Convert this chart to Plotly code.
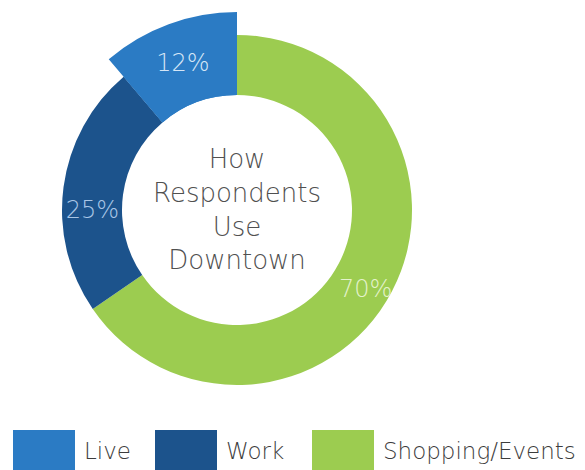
import math

import plotly.graph_objects as go

# Survey answers
labels = ["Live", "Work", "Shopping/Events"]
values = [12, 25, 70]
colors = ["#2b7bc4", "#1c538c", "#9ccc50"]
text_colors = ["#d6e6f6", "#a9c6e6", "#e4f2cc"]
center_title = "How<br>Respondents<br>Use<br>Downtown"

# page has an 8px body margin, so work in screen pixels and shift
OFF = 8
W, H = 585 - OFF, 470 - OFF
cx, cy = 237 - OFF, 210 - OFF   # donut centre (from top-left of the figure)
r_out, r_in = 175, 115          # normal ring
r_big = 198                     # the pulled-out "Live" slice


def dom(r):
    return dict(
        x=[(cx - r) / W, (cx + r) / W],
        y=[(H - cy - r) / H, (H - cy + r) / H],
    )


# pie goes clockwise from 12 o'clock: Shopping, Work, Live
p_labels = labels[::-1]
p_values = values[::-1]
p_colors = colors[::-1]
p_text_colors = text_colors[::-1]

label_font = dict(family="DejaVu Sans", size=24, weight=300)

fig = go.Figure()

# Main ring (the big green slice gets its label as an annotation below)
fig.add_trace(
    go.Pie(
        labels=p_labels,
        values=p_values,
        sort=False,
        direction="clockwise",
        rotation=0,
        hole=r_in / r_out,
        domain=dom(r_out),
        marker=dict(colors=p_colors, line=dict(width=0)),
        text=["", f"{p_values[1]}%", ""],
        textinfo="text",
        textposition="inside",
        insidetextorientation="horizontal",
        insidetextfont=dict(color=p_text_colors, **label_font),
        showlegend=False,
        hoverinfo="skip",
    )
)

# Larger ring carrying only the "Live" slice
fig.add_trace(
    go.Pie(
        labels=p_labels,
        values=p_values,
        sort=False,
        direction="clockwise",
        rotation=0,
        hole=r_in / r_big,
        domain=dom(r_big),
        marker=dict(
            colors=["rgba(0,0,0,0)", "rgba(0,0,0,0)", p_colors[-1]],
            line=dict(width=0),
        ),
        text=["", "", f"{p_values[-1]}%"],
        textinfo="text",
        textposition="inside",
        insidetextorientation="horizontal",
        insidetextfont=dict(color=p_text_colors[-1], **label_font),
        showlegend=False,
        hoverinfo="skip",
    )
)

# label for the green slice at the middle of its arc
mid = math.radians(360 * (p_values[0] / 2) / sum(p_values))
r_mid = (r_in + r_out) / 2
fig.add_annotation(
    x=(cx + r_mid * math.sin(mid)) / W,
    y=(H - cy + r_mid * math.cos(mid) - 11) / H,
    xref="paper",
    yref="paper",
    text=f"{p_values[0]}%",
    showarrow=False,
    font=dict(color=p_text_colors[0], **label_font),
)

fig.add_annotation(
    x=cx / W,
    y=(H - cy) / H,
    xref="paper",
    yref="paper",
    text=center_title,
    showarrow=False,
    font=dict(family="DejaVu Sans", size=26, color="#505050", weight=300),
    align="center",
)

# Custom legend with big swatches
legend_x = [13, 155, 312]
sw_w, sw_h = 62, 40
for lab, col, x0 in zip(labels, colors, legend_x):
    x0 -= OFF
    fig.add_shape(
        type="rect",
        xref="paper",
        yref="paper",
        x0=x0 / W,
        x1=(x0 + sw_w) / W,
        y0=0,
        y1=sw_h / H,
        fillcolor=col,
        line=dict(width=0),
    )
    fig.add_annotation(
        x=(x0 + sw_w + 7) / W,
        y=(470 - 451) / H,
        xref="paper",
        yref="paper",
        xanchor="left",
        yanchor="middle",
        text=lab,
        showarrow=False,
        font=dict(family="DejaVu Sans", size=23, color="#3c3c3c", weight=300),
    )

fig.update_layout(
    width=W,
    height=H,
    margin=dict(l=0, r=0, t=0, b=0),
    paper_bgcolor="white",
    plot_bgcolor="white",
)

fig.write_html("out.html")
